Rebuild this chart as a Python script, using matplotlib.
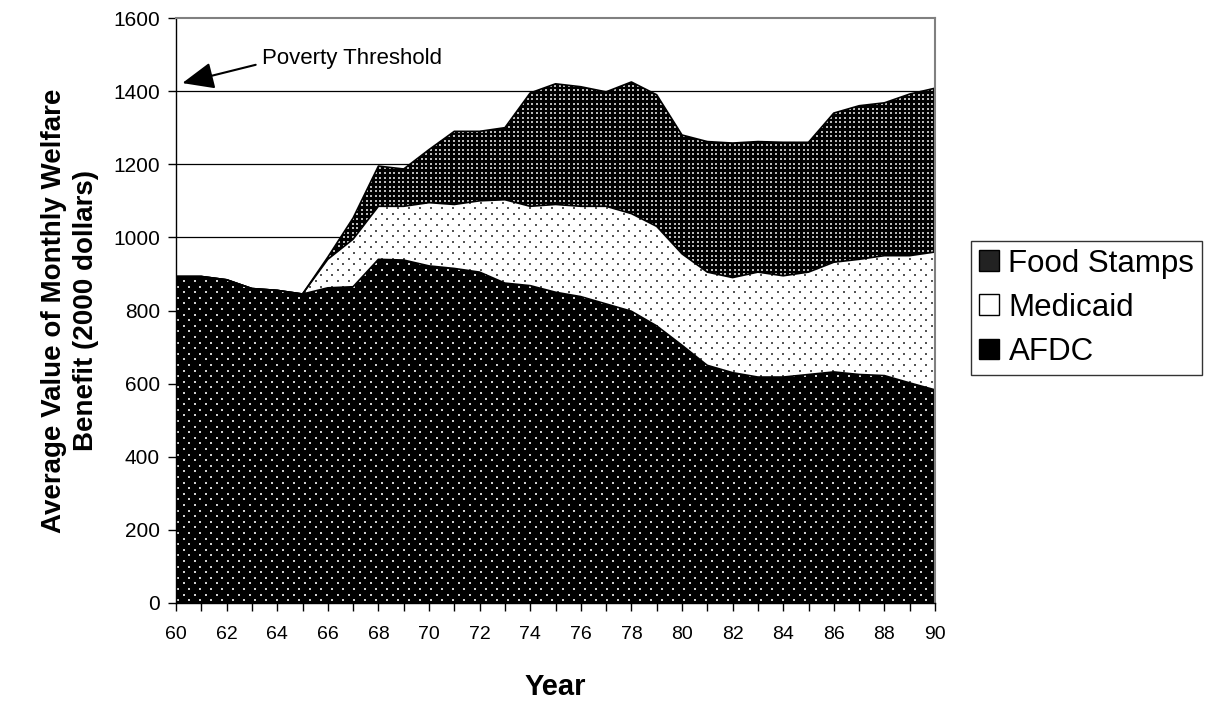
import numpy as np
import matplotlib
matplotlib.use("Agg")
import matplotlib.pyplot as plt
from matplotlib.patches import Patch

plt.rcParams['font.family'] = ['Liberation Sans', 'DejaVu Sans']

years = list(range(60, 91))
afdc = [893, 893, 884, 860, 855, 845, 862, 865, 940, 938, 922, 915, 905, 875, 868, 850,
        838, 818, 798, 758, 705, 650, 630, 618, 618, 625, 632, 625, 622, 602, 583]
medicaid = [0, 0, 0, 0, 0, 0, 78, 130, 145, 147, 173, 175, 195, 228, 217, 240,
            247, 267, 267, 272, 250, 255, 260, 287, 277, 280, 300, 315, 328, 348, 377]
food_stamps = [0, 0, 0, 0, 0, 0, 6, 58, 110, 102, 145, 200, 190, 197, 310, 330,
               327, 313, 360, 360, 325, 357, 368, 357, 365, 355, 408, 420, 418, 442, 448]
series_names = ["AFDC", "Medicaid", "Food Stamps"]
yticks = list(range(0, 1601, 200))

W_PX, H_PX = 1212, 701
fig = plt.figure(figsize=(W_PX / 100, H_PX / 100), dpi=100)
ax_l, ax_r, ax_t, ax_b = 176 / W_PX, 935 / W_PX, 1 - 18 / H_PX, 1 - 603 / H_PX
ax = fig.add_axes([ax_l, ax_b, ax_r - ax_l, ax_t - ax_b])
ax_w_px = (ax_r - ax_l) * W_PX
ax_h_px = (ax_t - ax_b) * H_PX

ax.set_xlim(60, 90)
ax.set_ylim(0, 1600)

# horizontal gridlines behind the areas
for v in yticks[1:-1]:
    ax.axhline(v, color='black', lw=0.9, zorder=0)

colls = ax.stackplot(years, afdc, medicaid, food_stamps,
                     colors=['black', 'white', 'black'], zorder=1, lw=0)

# boundary lines of the stacked layers
cum1 = np.array(afdc)
cum2 = cum1 + np.array(medicaid)
cum3 = cum2 + np.array(food_stamps)
for c in (cum1, cum2, cum3):
    ax.plot(years, c, color='black', lw=1.2, zorder=4)


def dot_grid(dx, dy, stagger=True):
    xs, ys = [], []
    for i, y in enumerate(np.arange(dy / 2, ax_h_px, dy)):
        off = dx / 2 if (stagger and i % 2) else 0
        x = np.arange(off + 2, ax_w_px, dx)
        xs.append(x)
        ys.append(np.full_like(x, y))
    return np.concatenate(xs) / ax_w_px, np.concatenate(ys) / ax_h_px


fills = [
    (colls[0], 11, 5.6, '#d0d0d0', 1.6),
    (colls[1], 11, 5.6, '#555555', 1.6),
    (colls[2], 4.6, 4.6, '#b8b8b8', 1.3),
]
for coll, dx, dy, col, sz in fills:
    gx, gy = dot_grid(dx, dy, stagger=(dx > dy))
    sc = ax.scatter(gx, gy, s=sz, marker='s', c=col, linewidths=0,
                    transform=ax.transAxes, zorder=2)
    sc.set_clip_path(coll.get_paths()[0], coll.get_transform())

# axes frame
for side in ('top', 'right'):
    ax.spines[side].set_color('#808080')
    ax.spines[side].set_linewidth(1.5)
for side in ('left', 'bottom'):
    ax.spines[side].set_color('black')
    ax.spines[side].set_linewidth(1.0)
for s in ax.spines.values():
    s.set_zorder(5)

ax.set_xticks(years)
ax.set_xticklabels([str(y) if y % 2 == 0 else '' for y in years], fontsize=14)
ax.set_yticks(yticks)
ax.set_yticklabels([str(v) for v in yticks], fontsize=15)
ax.tick_params(axis='both', direction='out', length=5.5, width=1, color='black')
ax.tick_params(axis='x', pad=11)
ax.tick_params(axis='y', pad=6)

ax.set_xlabel("Year", fontsize=21, fontweight='bold', labelpad=22)
ax.set_ylabel("Average Value of Monthly Welfare\nBenefit (2000 dollars)",
              fontsize=20, fontweight='bold', labelpad=10, linespacing=1.3)

# poverty threshold label and arrow
ax.text(63.4, 1490, "Poverty Threshold", fontsize=16, va='center', ha='left',
        zorder=6)
ax.annotate("", xy=(60.25, 1422), xytext=(63.15, 1472),
            arrowprops=dict(arrowstyle='-|>,head_length=1.3,head_width=0.55',
                            mutation_scale=15, color='black', lw=1.5,
                            shrinkA=0, shrinkB=0),
            zorder=6)

handles = [
    Patch(facecolor='#222222', edgecolor='black', label='Food Stamps'),
    Patch(facecolor='white', edgecolor='black', label='Medicaid'),
    Patch(facecolor='black', edgecolor='black', label='AFDC'),
]
leg = fig.legend(handles=handles, loc='upper left',
                 bbox_to_anchor=(971 / W_PX, 1 - 241 / H_PX),
                 fontsize=22.5, frameon=True, fancybox=False, edgecolor='black',
                 handlelength=0.65, handleheight=0.65, handletextpad=0.3,
                 labelspacing=0.45, borderpad=0.25, borderaxespad=0)
leg.get_frame().set_linewidth(1.0)

fig.savefig("out.png", dpi=100)
